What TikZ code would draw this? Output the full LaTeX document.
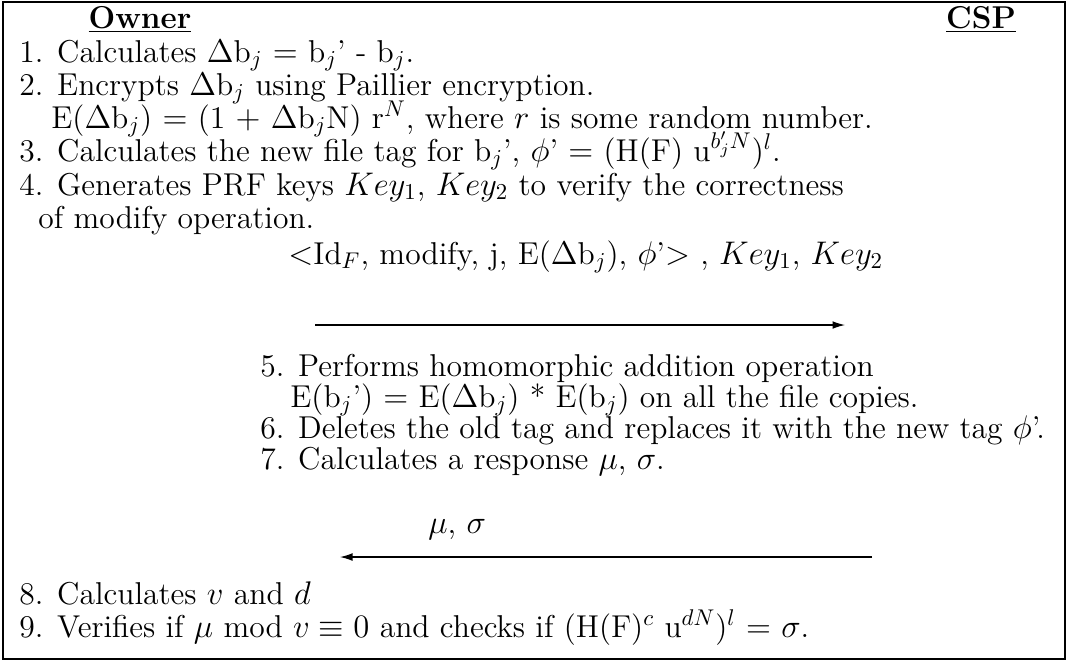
\documentclass[12pt,tikz,border=0pt]{standalone}
\usetikzlibrary{arrows.meta}
\begin{document}
\begin{tikzpicture}[x=0.44pt,y=-0.44pt,
  txt/.style={anchor=base west, inner sep=0pt, font=\fontsize{13.9}{16}\selectfont},
  hdr/.style={anchor=base, inner sep=0pt, font=\fontsize{13.9}{16}\selectfont},
  msgarrow/.style={-{Latex[length=5.5pt,width=3.4pt]}, line width=0.5pt},
  frame/.style={draw, line width=0.7pt}]
\useasboundingbox (0,0) rectangle (1068,661);
\draw[frame] (3,2) rectangle (1065,659);
\node[hdr] (owner) at (140,28) {\underline{\textbf{Owner}}};
\node[hdr] (csp) at (981,28) {\underline{\textbf{CSP}}};
\node[txt] (l1) at (19,62) {1. Calculates $\Delta$b$_j$ $=$ b$_j$' - b$_j$.};
\node[txt] (l2) at (19,95) {2. Encrypts $\Delta$b$_j$ using Paillier encryption.};
\node[txt] (l2b) at (51,128) {E($\Delta$b$_j$) $=$ (1 $+$ $\Delta$b$_j$N) r$^N$, where $r$ is some random number.};
\node[txt] (l3) at (19,161) {3. Calculates the new file tag for b$_j$', $\phi$' $=$ (H(F) u$^{b'_jN}$)$^l$.};
\node[txt] (l4) at (19,195) {4. Generates PRF keys $Key_1$, $Key_2$ to verify the correctness};
\node[txt] (l4b) at (38,228) {of modify operation.};
\node[txt] (msg) at (288,264) {$<$Id$_F$, modify, j, E($\Delta$b$_j$), $\phi$'$>$ , $Key_1$, $Key_2$};
\coordinate (a1s) at (315,325);
\coordinate (a1e) at (845,325);
\draw[msgarrow] (a1s) -- (a1e);
\node[txt] (l5) at (260,376) {5. Performs homomorphic addition operation};
\node[txt] (l5b) at (290,407) {E(b$_j$') $=$ E($\Delta$b$_j$) * E(b$_j$) on all the file copies.};
\node[txt] (l6) at (260,438) {6. Deletes the old tag and replaces it with the new tag $\phi$'.};
\node[txt] (l7) at (260,469) {7. Calculates a response $\mu$, $\sigma$.};
\node[txt] (resp) at (428,533) {$\mu$, $\sigma$};
\coordinate (a2s) at (872,557);
\coordinate (a2e) at (340,557);
\draw[msgarrow] (a2s) -- (a2e);
\node[txt] (l8) at (19,604) {8. Calculates $v$ and $d$};
\node[txt] (l9) at (19,637) {9. Verifies if $\mu$ mod $v \equiv 0$ and checks if (H(F)$^c$ u$^{dN}$)$^l$ $=$ $\sigma$.};
\end{tikzpicture}
\end{document}
